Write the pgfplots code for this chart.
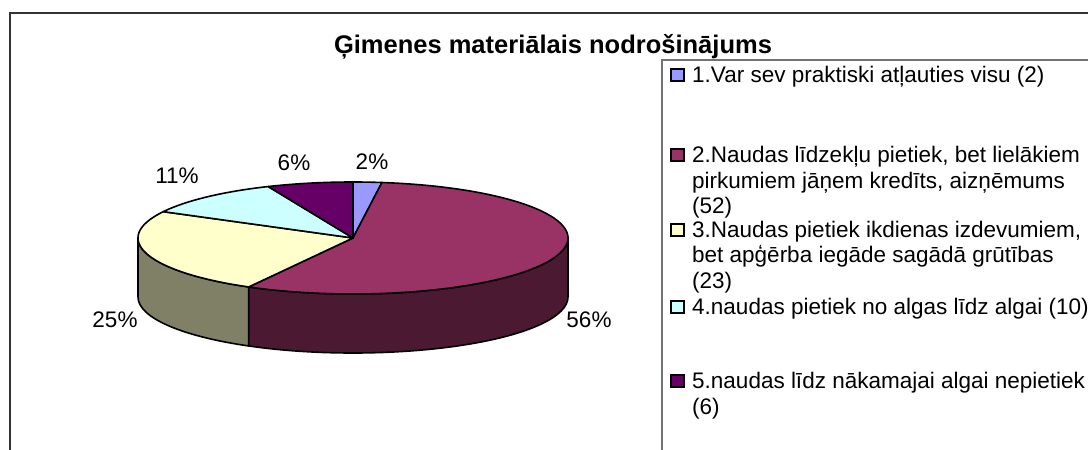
\documentclass[border=0pt]{standalone}
\usepackage{pgfplots}
\pgfplotsset{compat=1.18}
\usepackage{fontspec}
\setmainfont{Liberation Sans}
\definecolor{cA}{HTML}{9999FF}
\definecolor{cB}{HTML}{993366}
\definecolor{cBs}{HTML}{4C1933}
\definecolor{cC}{HTML}{FFFFCC}
\definecolor{cCs}{HTML}{808066}
\definecolor{cD}{HTML}{CCFFFF}
\definecolor{cE}{HTML}{660066}
% data: counts per answer
\def\vA{2}\def\vB{52}\def\vC{23}\def\vD{10}\def\vE{6}
\pgfmathsetmacro\tot{\vA+\vB+\vC+\vD+\vE}
\pgfmathsetmacro\aA{90}
\pgfmathsetmacro\aB{90-\vA/\tot*360}
\pgfmathsetmacro\aC{90-(\vA+\vB)/\tot*360}
\pgfmathsetmacro\aD{90-(\vA+\vB+\vC)/\tot*360}
\pgfmathsetmacro\aE{90-(\vA+\vB+\vC+\vD)/\tot*360}
\pgfmathsetmacro\aF{-270}
\begin{document}
\begin{tikzpicture}
\begin{axis}[at={(0,0)}, anchor=south west, width=1088pt, height=450pt,
  scale only axis, xmin=0, xmax=1088, ymin=0, ymax=450, hide axis, clip=false]
% frames
\draw[line width=1.3pt, black!80] (axis cs:10,-5) -- (axis cs:10,437) -- (axis cs:1100,437);
\draw[line width=1.2pt, black!55] (axis cs:662,-5) -- (axis cs:662,390) -- (axis cs:1100,390);
% title
\node[font=\bfseries\fontsize{25.5}{30}\selectfont, anchor=base, inner sep=0] at (axis cs:553,396) {Ģimenes materiālais nodrošinājums};
% pie
\tikzset{pe/.style={draw=black, line width=1.6pt, line join=round}, er/.style={x radius=215pt, y radius=56pt}}
\filldraw[pe, fill=cBs] (axis cs:353,212) ++(0:215pt and 56pt) arc[er, start angle=0, end angle=\aC] -- ++(0pt,-59pt) arc[er, start angle=\aC, end angle=0] -- cycle;
\filldraw[pe, fill=cCs] (axis cs:353,212) ++(\aC:215pt and 56pt) arc[er, start angle=\aC, end angle=-180] -- ++(0pt,-59pt) arc[er, start angle=-180, end angle=\aC] -- cycle;
\filldraw[pe, fill=cA] (axis cs:353,212) -- ++(\aA:215pt and 56pt) arc[er, start angle=\aA, end angle=\aB] -- cycle;
\filldraw[pe, fill=cB] (axis cs:353,212) -- ++(\aB:215pt and 56pt) arc[er, start angle=\aB, end angle=\aC] -- cycle;
\filldraw[pe, fill=cC] (axis cs:353,212) -- ++(\aC:215pt and 56pt) arc[er, start angle=\aC, end angle=\aD] -- cycle;
\filldraw[pe, fill=cD] (axis cs:353,212) -- ++(\aD:215pt and 56pt) arc[er, start angle=\aD, end angle=\aE] -- cycle;
\filldraw[pe, fill=cE] (axis cs:353,212) -- ++(\aE:215pt and 56pt) arc[er, start angle=\aE, end angle=\aF] -- cycle;
% pie labels
\tikzset{pl/.style={font=\fontsize{22.5}{26}\selectfont, inner sep=0, anchor=center}}
\node[pl] at (axis cs:372,288) {2\%};
\node[pl] at (axis cs:294,287) {6\%};
\node[pl] at (axis cs:177,274) {11\%};
\node[pl] at (axis cs:115,130) {25\%};
\node[pl] at (axis cs:589,130) {56\%};
% legend
\tikzset{lt/.style={font=\fontsize{22.5}{26}\selectfont, inner sep=0, anchor=base west},
         lm/.style={draw=black, line width=1.8pt}}
\filldraw[lm, fill=cA] (axis cs:671,369) rectangle (axis cs:684,381);
\node[lt] at (axis cs:692,367) {1.Var sev praktiski atļauties visu (2)};
\filldraw[lm, fill=cB] (axis cs:671,289) rectangle (axis cs:684,301);
\node[lt] at (axis cs:692,287) {2.Naudas līdzekļu pietiek, bet lielākiem};
\node[lt] at (axis cs:692,261) {pirkumiem jāņem kredīts, aizņēmums};
\node[lt] at (axis cs:692,236) {(52)};
\filldraw[lm, fill=cC] (axis cs:671,214) rectangle (axis cs:684,226);
\node[lt] at (axis cs:692,212) {3.Naudas pietiek ikdienas izdevumiem,};
\node[lt] at (axis cs:692,187) {bet apģērba iegāde sagādā grūtības};
\node[lt] at (axis cs:692,161) {(23)};
\filldraw[lm, fill=cD] (axis cs:671,137) rectangle (axis cs:684,149);
\node[lt] at (axis cs:692,135) {4.naudas pietiek no algas līdz algai (10)};
\filldraw[lm, fill=cE] (axis cs:671,63) rectangle (axis cs:684,75);
\node[lt] at (axis cs:692,61) {5.naudas līdz nākamajai algai nepietiek};
\node[lt] at (axis cs:692,35) {(6)};
\end{axis}
\pgfresetboundingbox
\path[use as bounding box] (0,0) rectangle (1088pt,450pt);
\end{tikzpicture}
\end{document}
